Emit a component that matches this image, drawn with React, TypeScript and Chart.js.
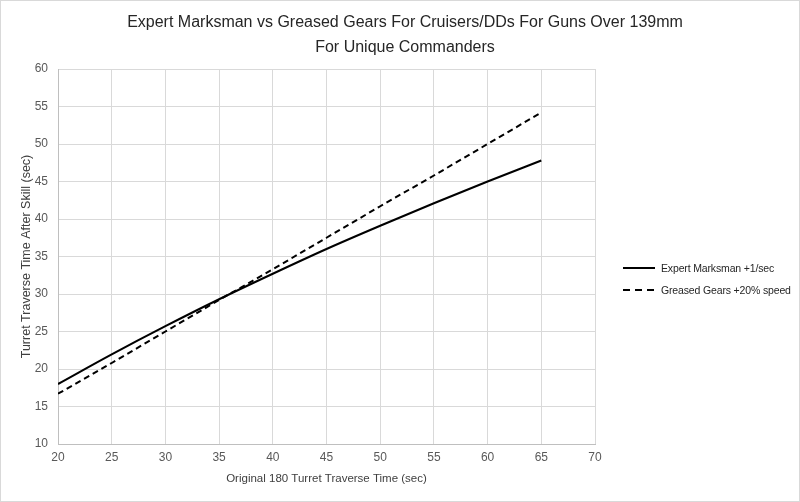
import React, { useEffect, useRef } from "react";
import { Chart, registerables } from "chart.js";

Chart.register(...registerables);

const xValues = [20, 25, 30, 35, 40, 45, 50, 55, 60, 65];
const expertMarksman = [18.0, 21.95, 25.71, 29.3, 32.7, 36.0, 39.1, 42.1, 45.0, 47.8];
const greasedGears = [16.7, 20.8, 25.0, 29.2, 33.3, 37.5, 41.7, 45.8, 50.0, 54.2];
const seriesNames = ["Expert Marksman +1/sec", "Greased Gears +20% speed"];
const titleLines = [
  "Expert Marksman vs Greased Gears For Cruisers/DDs For Guns Over 139mm",
  "For Unique Commanders",
];
const xTitle = "Original 180 Turret Traverse Time (sec)";
const yTitle = "Turret Traverse Time After Skill (sec)";

const FONT = "'Liberation Sans', Arial, sans-serif";

export default function App() {
  const ref = useRef<HTMLCanvasElement | null>(null);

  useEffect(() => {
    document.body.style.margin = "0";
    if (!ref.current) return;
    const chart = new Chart(ref.current, {
      type: "line",
      data: {
        datasets: [
          {
            label: seriesNames[0],
            data: xValues.map((x, i) => ({ x, y: expertMarksman[i] })),
            borderColor: "#000000",
            backgroundColor: "#000000",
            borderWidth: 2,
            pointRadius: 0,
            tension: 0.4,
            cubicInterpolationMode: "monotone",
          },
          {
            label: seriesNames[1],
            data: xValues.map((x, i) => ({ x, y: greasedGears[i] })),
            borderColor: "#000000",
            backgroundColor: "#000000",
            borderWidth: 2,
            borderDash: [6, 4],
            pointRadius: 0,
            tension: 0,
          },
        ],
      },
      options: {
        animation: false,
        responsive: false,
        maintainAspectRatio: false,
        layout: { padding: { top: 69, left: 0, right: 205, bottom: 0 } },
        plugins: {
          legend: { display: false },
          title: { display: false },
          tooltip: { enabled: false },
        },
        scales: {
          x: {
            type: "linear",
            min: 20,
            max: 70,
            ticks: {
              stepSize: 5,
              color: "#595959",
              font: { family: FONT, size: 12 },
              padding: 6,
            },
            grid: { color: "#d9d9d9", drawTicks: false, lineWidth: 1 },
            border: { color: "#bfbfbf" },
            title: {
              display: true,
              text: xTitle,
              color: "#404040",
              font: { family: FONT, size: 11.5 },
              padding: { top: 0, bottom: 16 },
            },
            afterFit: (s: any) => {
              s.height = 58;
            },
          },
          y: {
            min: 10,
            max: 60,
            ticks: {
              stepSize: 5,
              color: "#595959",
              font: { family: FONT, size: 12 },
              padding: 10,
            },
            grid: { color: "#d9d9d9", drawTicks: false, lineWidth: 1 },
            border: { color: "#bfbfbf" },
            title: {
              display: true,
              text: yTitle,
              color: "#404040",
              font: { family: FONT, size: 12.5 },
              padding: { top: 19, bottom: 0 },
            },
            afterFit: (s: any) => {
              s.width = 58;
            },
          },
        },
      },
    });
    return () => chart.destroy();
  }, []);

  const legendRow = (dash: boolean, text: string, top: number) => (
    <div
      style={{
        position: "absolute",
        left: 621,
        top: top - 8,
        height: 16,
        display: "flex",
        alignItems: "center",
        fontFamily: FONT,
        fontSize: 10.5,
        letterSpacing: "-0.15px",
        color: "#262626",
        whiteSpace: "nowrap",
      }}
    >
      <svg width={34} height={16} style={{ marginRight: 5 }}>
        <line
          x1={1}
          y1={8}
          x2={33}
          y2={8}
          stroke="#000"
          strokeWidth={2}
          strokeDasharray={dash ? "7 5" : undefined}
        />
      </svg>
      <span>{text}</span>
    </div>
  );

  return (
    <div
      style={{
        position: "relative",
        width: 800,
        height: 502,
        boxSizing: "border-box",
        border: "1px solid #d9d9d9",
        background: "#fff",
        overflow: "hidden",
      }}
    >
      <canvas
        ref={ref}
        width={800}
        height={502}
        style={{ position: "absolute", left: -1, top: -1, width: 800, height: 502 }}
      />
      <div
        style={{
          position: "absolute",
          left: 0,
          width: 798,
          top: 8,
          textAlign: "center",
          fontFamily: FONT,
          fontSize: 16,
          lineHeight: "25px",
          color: "#262626",
        }}
      >
        {titleLines.map((t) => (
          <div key={t} style={{ paddingLeft: 10 }}>{t}</div>
        ))}
      </div>
      {legendRow(false, seriesNames[0], 267)}
      {legendRow(true, seriesNames[1], 289)}
    </div>
  );
}
